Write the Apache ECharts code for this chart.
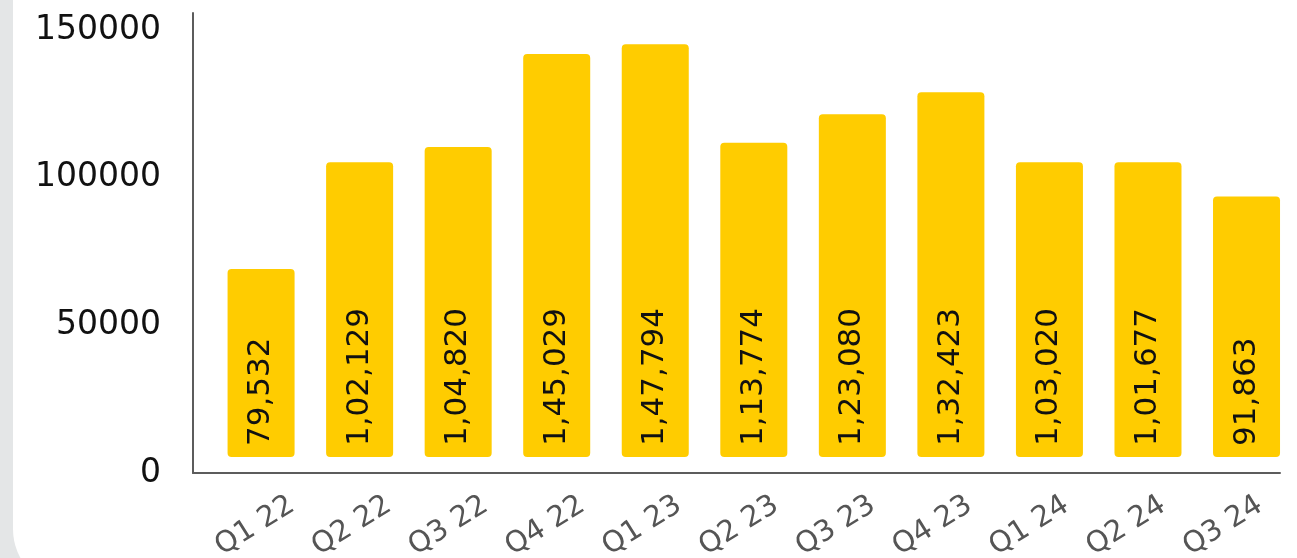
<!DOCTYPE html>
<html>
<head>
<meta charset="utf-8">
<script src="https://cdn.jsdelivr.net/npm/echarts@6/dist/echarts.min.js"></script>
<style>
  html, body { margin: 0; padding: 0; width: 1297px; height: 558px; overflow: hidden; background: #e4e6e7; }
  #card { position: absolute; left: 13px; top: -60px; width: 1360px; height: 649px; background: #ffffff; border-radius: 60px; }
  #chart { position: absolute; left: 0; top: 0; width: 1297px; height: 558px; }
</style>
</head>
<body>
<div id="card"></div>
<div id="chart"></div>
<script>
// ---- data ----
const categories = ['Q1 22', 'Q2 22', 'Q3 22', 'Q4 22', 'Q1 23', 'Q2 23', 'Q3 23', 'Q4 23', 'Q1 24', 'Q2 24', 'Q3 24'];
// bar heights as read against the y axis
const barValues = [69100, 105200, 110400, 141900, 145200, 111800, 121500, 128900, 105200, 105200, 93600];
// numbers printed inside the bars
const barLabels = ['79,532', '1,02,129', '1,04,820', '1,45,029', '1,47,794', '1,13,774', '1,23,080', '1,32,423', '1,03,020', '1,01,677', '91,863'];
const yTickStep = 50000;
const yMin = 0;
const yTop = 155750;

const FONT = 'DejaVu Sans';
const AXIS_COLOR = '#5c5c5c';
const BAR_COLOR = '#FFCC00';

const chart = echarts.init(document.getElementById('chart'), null, { renderer: 'canvas' });

const option = {
  animation: false,
  backgroundColor: 'transparent',
  grid: [
    { left: 211.8, right: 1.2, top: 13, bottom: 85, containLabel: false, outerBoundsMode: 'none' },
    { left: 193, right: 17, top: 13, bottom: 85, containLabel: false, outerBoundsMode: 'none' },
    { left: 206.6, right: 25.6, top: 13, bottom: 85, containLabel: false, outerBoundsMode: 'none' }
  ],
  xAxis: [
    {
      gridIndex: 0, type: 'category', data: categories, boundaryGap: true,
      axisLine: { show: false }, axisTick: { show: false }, axisLabel: { show: false }, splitLine: { show: false }
    },
    {
      gridIndex: 1, type: 'value', min: 0, max: 1,
      axisLine: { show: true, onZero: false, lineStyle: { color: AXIS_COLOR, width: 2 } },
      axisTick: { show: false }, axisLabel: { show: false }, splitLine: { show: false }
    },
    {
      gridIndex: 2, type: 'category', data: categories, boundaryGap: true,
      axisLine: { show: false }, axisTick: { show: false }, splitLine: { show: false },
      axisLabel: {
        show: true, interval: 0, rotate: 32, align: 'center', verticalAlign: 'middle',
        margin: 53, color: '#555555', fontFamily: FONT, fontSize: 29
      }
    }
  ],
  yAxis: [
    {
      gridIndex: 0, type: 'value', min: yMin, max: yTop, interval: yTickStep, offset: 18.8,
      axisLine: { show: true, lineStyle: { color: AXIS_COLOR, width: 2 } },
      axisTick: { show: false }, splitLine: { show: false },
      axisLabel: {
        show: true, margin: 32, color: '#111111', fontFamily: FONT, fontSize: 33,
        padding: [0, 0, 10, 0],
        formatter: function (v) { return v % yTickStep === 0 ? String(v) : ''; }
      }
    },
    { gridIndex: 1, type: 'value', show: false, min: 0, max: 1 },
    { gridIndex: 2, type: 'value', show: false, min: 0, max: 1 }
  ],
  series: [
    {
      type: 'custom',
      xAxisIndex: 0, yAxisIndex: 0,
      data: barValues.map(function (v, i) { return [i, v]; }),
      encode: { x: 0, y: 1 },
      renderItem: function (params, api) {
        const idx = api.value(0);
        const top = api.coord([idx, api.value(1)]);
        const base = api.coord([idx, 0]);
        const band = api.size([1, 0])[0];
        const w = band * 0.68;
        const bottom = base[1] - 16;
        return {
          type: 'group',
          children: [
            {
              type: 'rect',
              shape: { x: top[0] - w / 2, y: top[1], width: w, height: bottom - top[1], r: 4 },
              style: { fill: BAR_COLOR }
            },
            {
              type: 'text',
              x: top[0], y: bottom - 11,
              rotation: Math.PI / 2,
              style: {
                text: barLabels[params.dataIndex],
                fill: '#111111', fontFamily: FONT, fontSize: 31,
                align: 'left', verticalAlign: 'middle'
              }
            }
          ]
        };
      }
    }
  ]
};
chart.setOption(option);
</script>
</body>
</html>
